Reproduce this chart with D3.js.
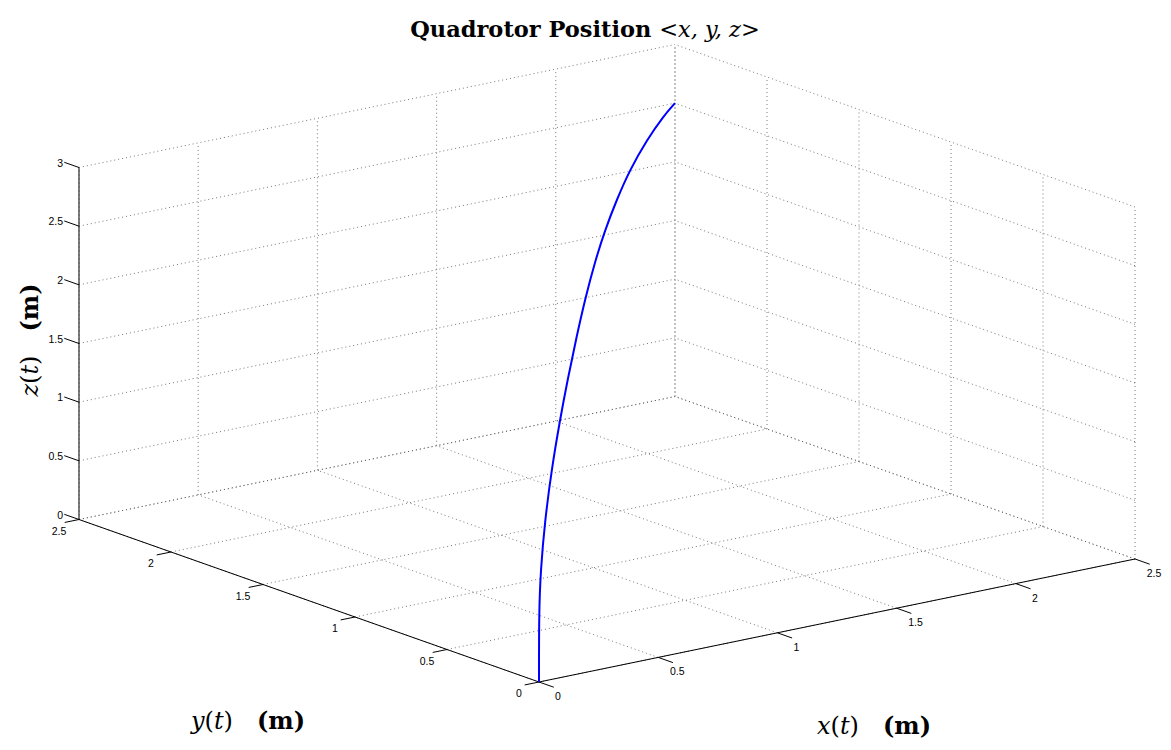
<!DOCTYPE html>
<html>
<head>
<meta charset="utf-8">
<script src="https://cdn.jsdelivr.net/npm/d3@7"></script>
<style>
  body { margin: 0; background: #fff; }
  svg { display: block; }
</style>
</head>
<body>
<svg id="chart" width="1171" height="750"></svg>
<script>
// trajectory samples (x and y move together)
const posX = [0, 0, 0.03, 0.11, 0.23, 0.38, 0.53, 0.69, 0.86, 1.03, 1.21, 1.43, 1.67, 1.98, 2.28, 2.5];
const posY = [0, 0, 0.03, 0.11, 0.23, 0.38, 0.53, 0.69, 0.86, 1.03, 1.21, 1.43, 1.67, 1.98, 2.28, 2.5];
const posZ = [0, 0.59, 0.92, 1.27, 1.58, 1.85, 2.07, 2.27, 2.45, 2.58, 2.67, 2.72, 2.74, 2.69, 2.6, 2.5];

const xTicks = [0, 0.5, 1, 1.5, 2, 2.5];
const yTicks = [0, 0.5, 1, 1.5, 2, 2.5];
const zTicks = [0, 0.5, 1, 1.5, 2, 2.5, 3];

const svg = d3.select('#chart');

// origin of the box on screen, and the screen offsets of each axis
const ox = 539, oy = 682;
const xH = d3.scaleLinear().domain([0, 2.5]).range([0, 596]);
const xV = d3.scaleLinear().domain([0, 2.5]).range([0, -123]);
const yH = d3.scaleLinear().domain([0, 2.5]).range([0, -460]);
const yV = d3.scaleLinear().domain([0, 2.5]).range([0, -162.5]);
const zV = d3.scaleLinear().domain([0, 3]).range([0, -352]);

const P = (x, y, z) => [ox + xH(x) + yH(y), oy + xV(x) + yV(y) + zV(z)];

const fmt = d => String(d);

// grid lines on the two back walls and the floor
const grid = [];
zTicks.forEach(z => {
  grid.push([P(0, 2.5, z), P(2.5, 2.5, z)]);
  grid.push([P(2.5, 0, z), P(2.5, 2.5, z)]);
});
xTicks.forEach(x => {
  grid.push([P(x, 2.5, 0), P(x, 2.5, 3)]);
  grid.push([P(x, 0, 0), P(x, 2.5, 0)]);
});
yTicks.forEach(y => {
  grid.push([P(2.5, y, 0), P(2.5, y, 3)]);
  grid.push([P(0, y, 0), P(2.5, y, 0)]);
});

svg.append('g')
  .selectAll('line')
  .data(grid)
  .join('line')
  .attr('x1', d => d[0][0]).attr('y1', d => d[0][1])
  .attr('x2', d => d[1][0]).attr('y2', d => d[1][1])
  .attr('stroke', '#555')
  .attr('stroke-width', 0.8)
  .attr('stroke-dasharray', '1 3');

// solid axes
const axes = [
  [P(0, 0, 0), P(2.5, 0, 0)],
  [P(0, 0, 0), P(0, 2.5, 0)],
  [P(0, 2.5, 0), P(0, 2.5, 3)]
];
svg.append('g')
  .selectAll('line')
  .data(axes)
  .join('line')
  .attr('x1', d => d[0][0]).attr('y1', d => d[0][1])
  .attr('x2', d => d[1][0]).attr('y2', d => d[1][1])
  .attr('stroke', '#000')
  .attr('stroke-width', 1);

const tickFont = '"Liberation Sans", Arial, sans-serif';

// x ticks: stick out along -y
const gx = svg.append('g');
gx.selectAll('line').data(xTicks).join('line')
  .attr('x1', d => P(d, 0, 0)[0]).attr('y1', d => P(d, 0, 0)[1])
  .attr('x2', d => P(d, -0.08, 0)[0]).attr('y2', d => P(d, -0.08, 0)[1])
  .attr('stroke', '#000');
gx.selectAll('text').data(xTicks).join('text')
  .attr('x', d => P(d, 0, 0)[0] + 19)
  .attr('y', d => P(d, 0, 0)[1] + 18)
  .attr('text-anchor', 'middle')
  .attr('font-family', tickFont).attr('font-size', 10.5)
  .text(fmt);

// y ticks: stick out along -x
const gy = svg.append('g');
gy.selectAll('line').data(yTicks).join('line')
  .attr('x1', d => P(0, d, 0)[0]).attr('y1', d => P(0, d, 0)[1])
  .attr('x2', d => P(-0.06, d, 0)[0]).attr('y2', d => P(-0.06, d, 0)[1])
  .attr('stroke', '#000');
gy.selectAll('text').data(yTicks).join('text')
  .attr('x', d => P(0, d, 0)[0] - 20)
  .attr('y', d => P(0, d, 0)[1] + 15)
  .attr('text-anchor', 'middle')
  .attr('font-family', tickFont).attr('font-size', 10.5)
  .text(fmt);

// z ticks: stick out along +y
const gz = svg.append('g');
gz.selectAll('line').data(zTicks).join('line')
  .attr('x1', d => P(0, 2.5, d)[0]).attr('y1', d => P(0, 2.5, d)[1])
  .attr('x2', d => P(0, 2.58, d)[0]).attr('y2', d => P(0, 2.58, d)[1])
  .attr('stroke', '#000');
gz.selectAll('text').data(zTicks).join('text')
  .attr('x', d => P(0, 2.5, d)[0] - 16)
  .attr('y', d => P(0, 2.5, d)[1] - 1)
  .attr('text-anchor', 'end')
  .attr('font-family', tickFont).attr('font-size', 10.5)
  .text(fmt);

// trajectory
const pts = posX.map((x, i) => P(x, posY[i], posZ[i]));
svg.append('path')
  .datum(pts)
  .attr('d', d3.line().curve(d3.curveBasis))
  .attr('fill', 'none')
  .attr('stroke', '#0000ff')
  .attr('stroke-width', 2);

// labels
const serif = '"DejaVu Serif", "Liberation Serif", serif';

const title = svg.append('text')
  .attr('x', 585).attr('y', 37)
  .attr('text-anchor', 'middle')
  .attr('font-family', serif).attr('font-size', 22.5);
title.append('tspan').attr('font-weight', 'bold').text('Quadrotor Position ');
title.append('tspan').text('<');
title.append('tspan').attr('font-style', 'italic').text('x, y, z');
title.append('tspan').text('>');

function axisLabel(sym, x, y, rot) {
  const t = svg.append('text')
    .attr('transform', `translate(${x},${y}) rotate(${rot})`)
    .attr('text-anchor', 'middle')
    .attr('font-family', serif).attr('font-size', 24);
  t.append('tspan').attr('font-style', 'italic').text(sym);
  t.append('tspan').text('(');
  t.append('tspan').attr('font-style', 'italic').text('t');
  t.append('tspan').text(')\u2003');
  t.append('tspan').attr('font-weight', 'bold').text('(m)');
}
axisLabel('x', 874, 734, 0);
axisLabel('y', 248, 729, 0);
axisLabel('z', 38, 340, -90);
</script>
</body>
</html>
